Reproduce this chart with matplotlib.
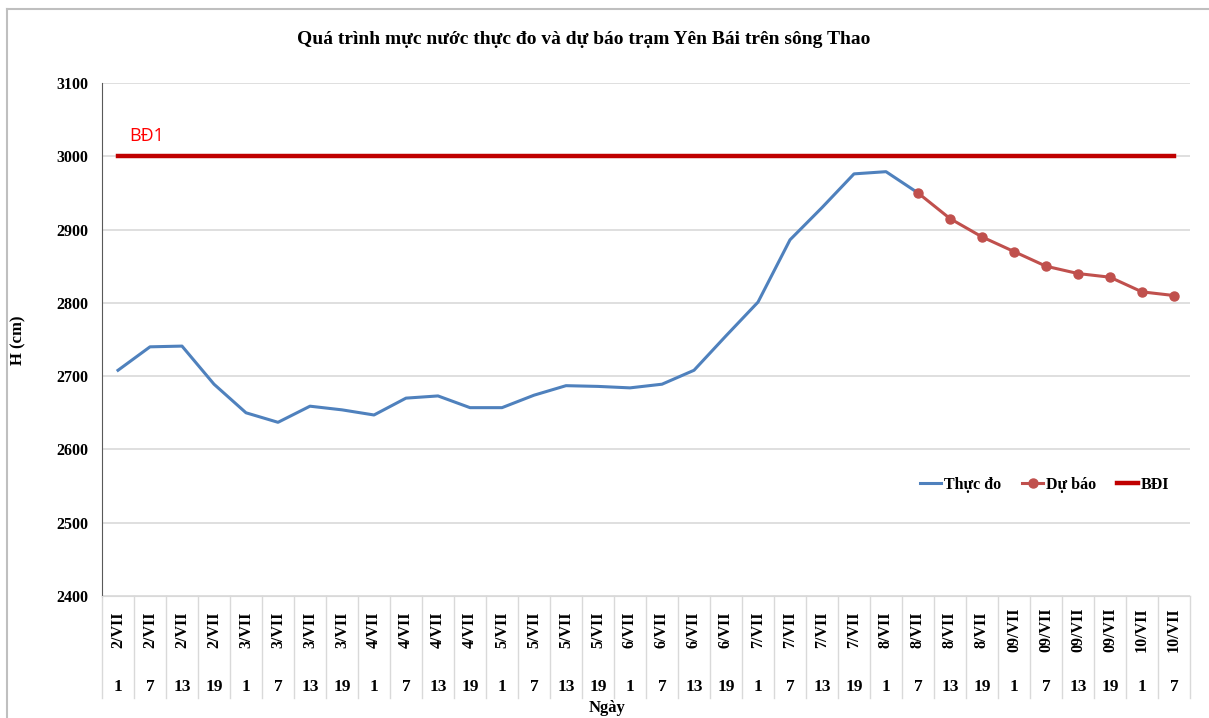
import matplotlib.pyplot as plt
from matplotlib.lines import Line2D
import matplotlib.transforms as mtransforms

dates = ['2/VII'] * 4 + ['3/VII'] * 4 + ['4/VII'] * 4 + ['5/VII'] * 4 + ['6/VII'] * 4 + \
        ['7/VII'] * 4 + ['8/VII'] * 4 + ['09/VII'] * 4 + ['10/VII'] * 2
hours = ['1', '7', '13', '19'] * 8 + ['1', '7']

observed = [2708, 2740, 2741, 2689, 2650, 2637, 2659, 2654, 2647, 2670, 2673, 2657,
            2657, 2674, 2687, 2686, 2684, 2689, 2708, 2755, 2801, 2886, 2930, 2976,
            2979, 2950]
forecast = [2950, 2915, 2890, 2870, 2850, 2840, 2835, 2815, 2810]
bd1 = 3000

n = len(dates)
x_obs = list(range(len(observed)))
x_fc = list(range(len(observed) - 1, len(observed) - 1 + len(forecast)))

serif = 'Liberation Serif'

fig = plt.figure(figsize=(12.09, 7.18), dpi=100)
ax = fig.add_axes([102 / 1209, 1 - 596 / 718, (1190 - 102) / 1209, (596 - 83) / 718])

ax.plot(range(n), [bd1] * n, color='#C00000', lw=3.2, label='BĐI', zorder=2)
ax.plot(x_obs, observed, color='#4F81BD', lw=2.2, label='Thực đo', zorder=3)
ax.plot(x_fc, forecast, color='#C0504D', lw=2.2, marker='o', ms=6.5, label='Dự báo', zorder=4)

ax.set_xlim(-0.5, n - 0.5)
ax.set_ylim(2400, 3100)
ax.set_yticks(range(2400, 3101, 100))
ax.yaxis.grid(True, color='#D9D9D9', lw=1.2)
ax.set_axisbelow(True)
ax.tick_params(axis='y', length=0, pad=10)
for lab in ax.get_yticklabels():
    lab.set_fontfamily(serif)
    lab.set_fontweight('bold')
    lab.set_fontsize(11.5)
ax.set_xticks([])
for s in ['top', 'right']:
    ax.spines[s].set_visible(False)
ax.spines['left'].set_color('#595959')
ax.spines['bottom'].set_color('#D9D9D9')

# two level category axis
trans = mtransforms.blended_transform_factory(ax.transData, ax.transAxes)
for i in range(n):
    ax.text(i, -0.066, dates[i], transform=trans, rotation=90, ha='center', va='center',
            fontfamily=serif, fontweight='bold', fontsize=11.5)
    ax.text(i, -0.177, hours[i], transform=trans, ha='center', va='center',
            fontfamily=serif, fontweight='bold', fontsize=12.5)
for i in range(n + 1):
    ax.plot([i - 0.5, i - 0.5], [0, -0.199], transform=trans, color='#D9D9D9', lw=1,
            clip_on=False)

ax.text(0.464, -0.218, 'Ngày', transform=ax.transAxes, ha='center', va='center',
        fontfamily=serif, fontweight='bold', fontsize=12)
fig.text(18 / 1209, 1 - 340 / 718, 'H (cm)', rotation=90, ha='center', va='center',
         fontfamily=serif, fontweight='bold', fontsize=12)
fig.text(584 / 1209, 1 - 40 / 718, 'Quá trình mực nước thực đo và dự báo trạm Yên Bái trên sông Thao',
         ha='center', va='center', fontfamily=serif, fontweight='bold', fontsize=14)
ax.text(0.35, 3027, 'BĐ1', color='#FF0000', fontsize=13, ha='left', va='center',
        fontfamily='Open Sans')

handles, labels = ax.get_legend_handles_labels()
order = [1, 2, 0]
leg = ax.legend([handles[k] for k in order], [labels[k] for k in order], ncol=3,
                loc='center', bbox_to_anchor=((1045 - 102) / 1088, (596 - 485) / 513),
                frameon=False, handlelength=1.3, handletextpad=0.2, columnspacing=1.3,
                prop={'family': serif, 'weight': 'bold', 'size': 11.5})

# outer chart frame
fig.add_artist(Line2D([7 / 1209, 7 / 1209], [0, 1 - 9 / 718], color='#BFBFBF', lw=1.5))
fig.add_artist(Line2D([7 / 1209, 1], [1 - 9 / 718, 1 - 9 / 718], color='#BFBFBF', lw=1.5))

fig.savefig('out.png', dpi=100)
